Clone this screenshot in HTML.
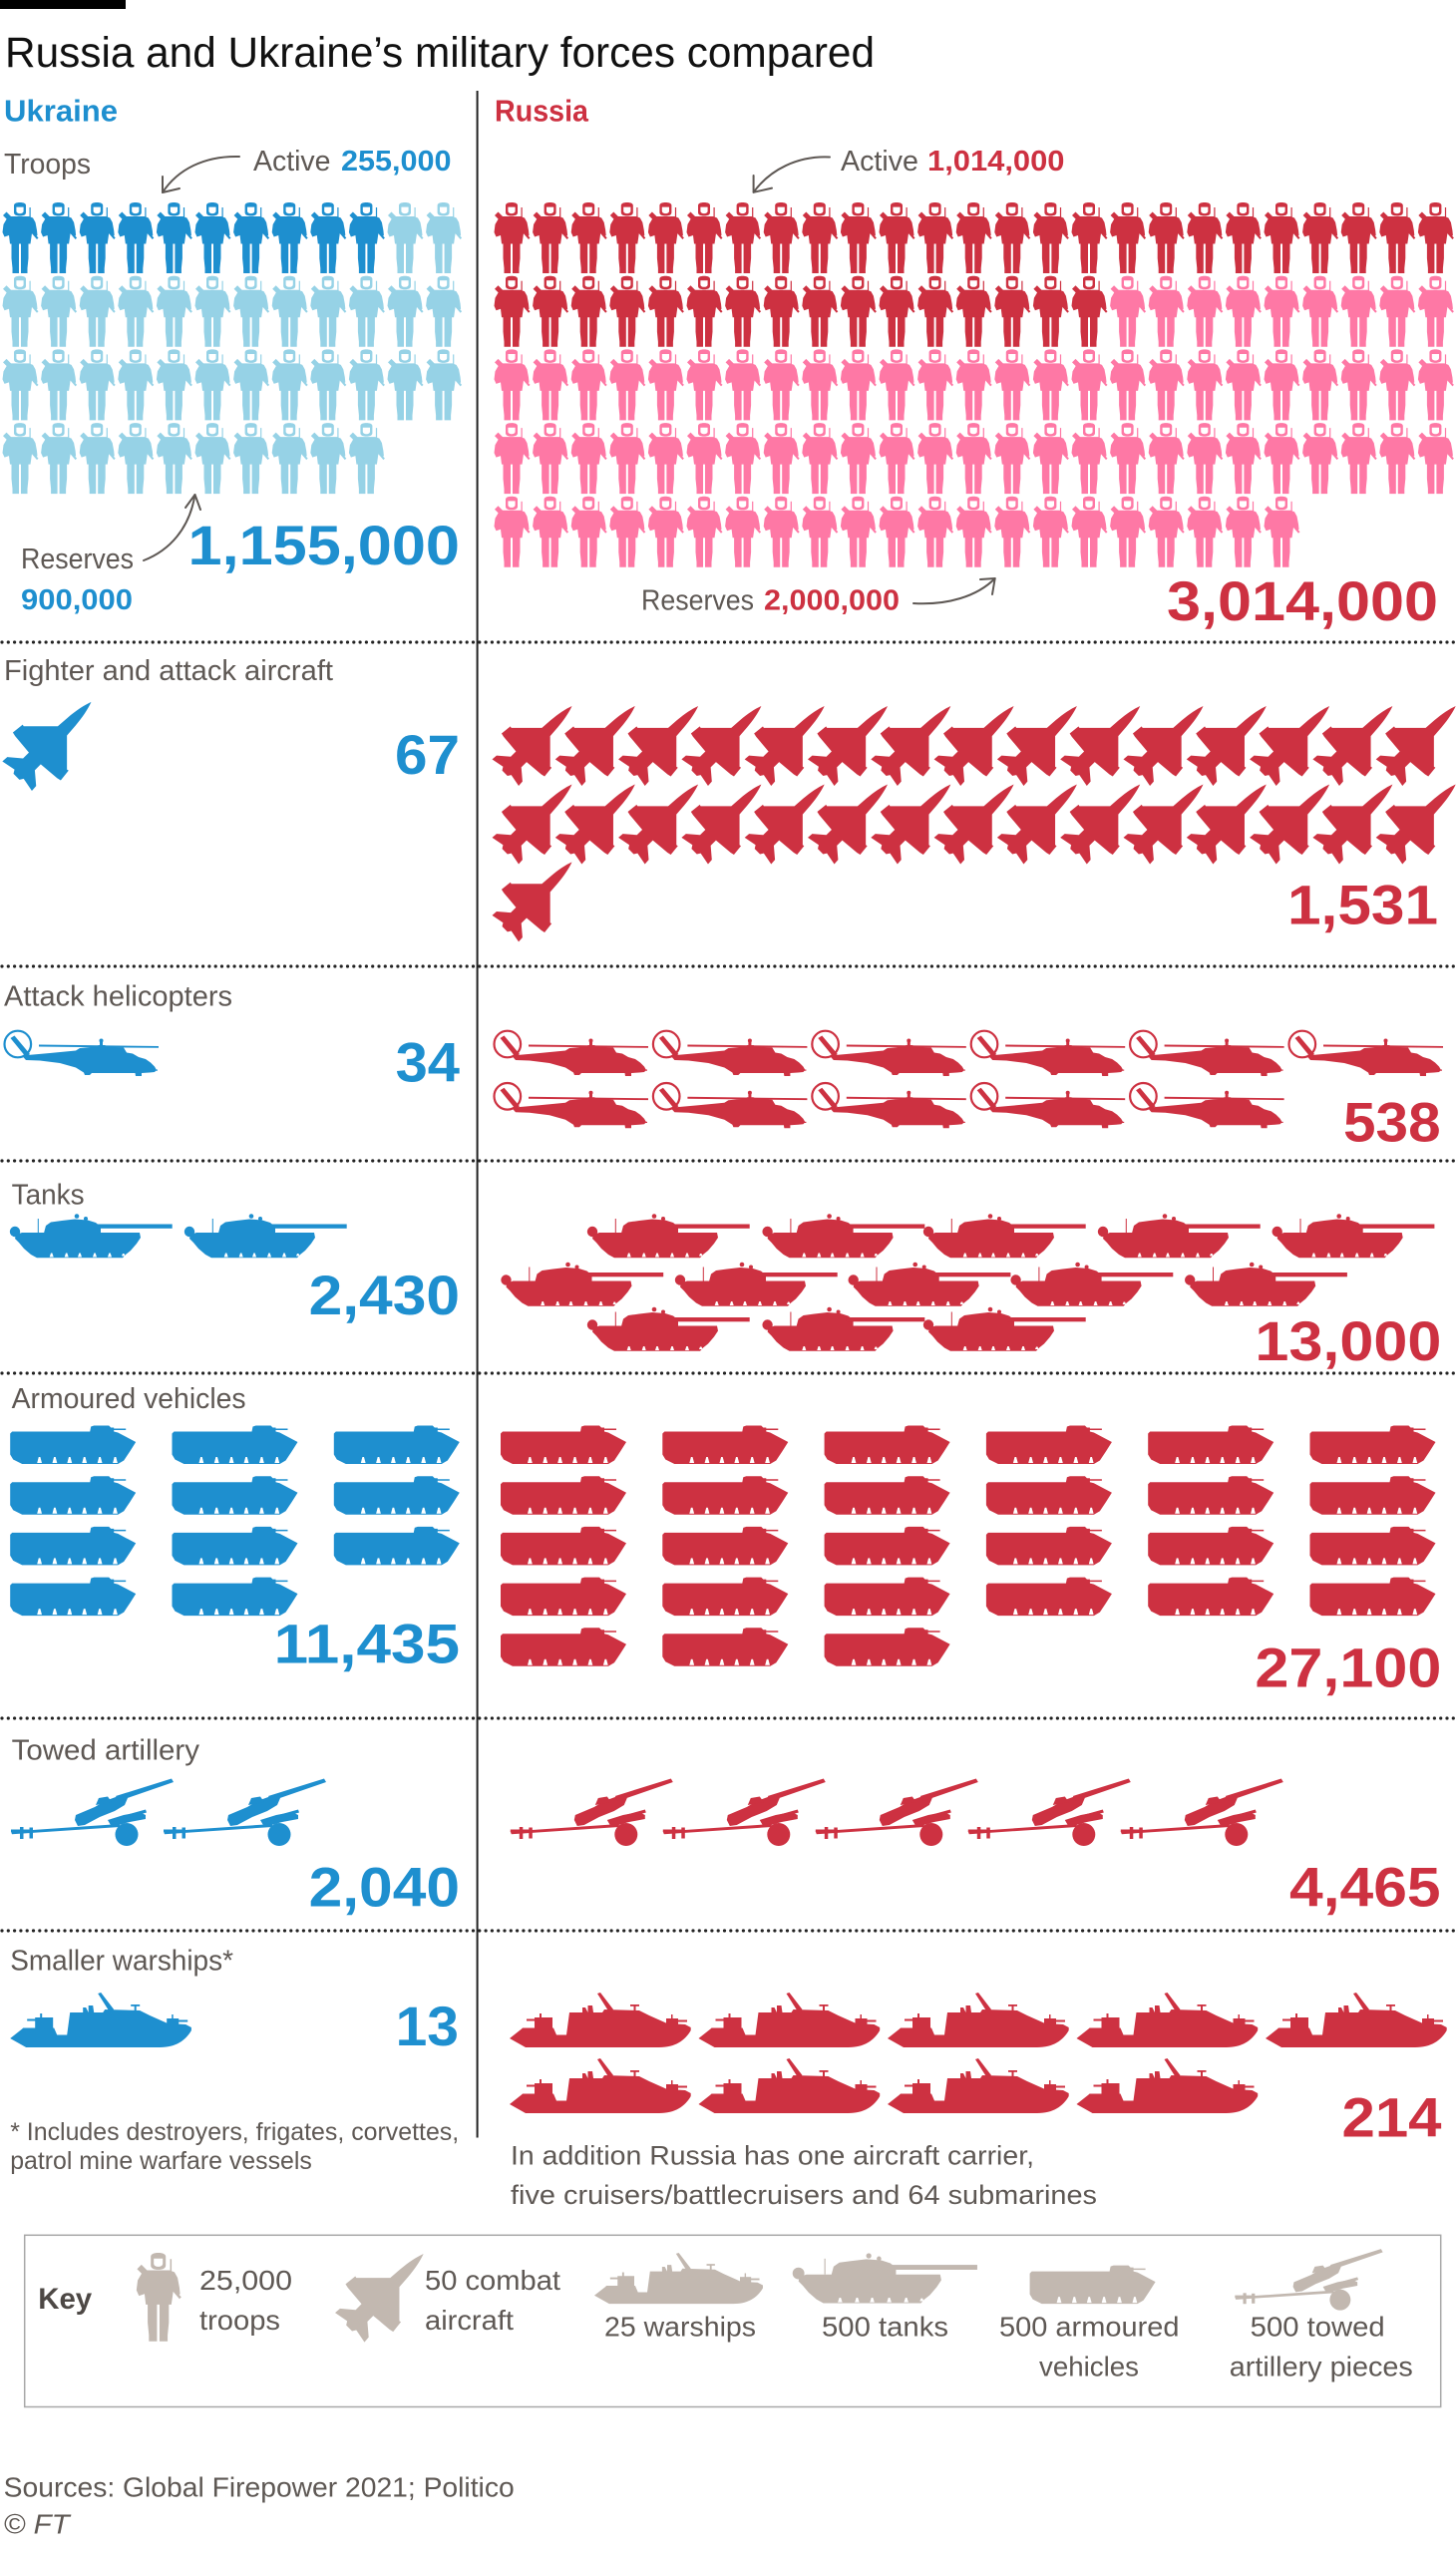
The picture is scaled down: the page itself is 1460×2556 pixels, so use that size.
<!DOCTYPE html>
<html>
<head>
<meta charset="utf-8">
<style>
html,body{margin:0;padding:0;background:#fff;}
svg{display:block;}
.t{font-family:"Liberation Sans",Arial,sans-serif;}
.lab{font-size:29px;fill:#5e5854;}
.big{font-size:56px;font-weight:bold;}
.bt{fill:#1e8fcf;}
.rt{fill:#cd3141;}
.B{fill:#1e8fcf;color:#1e8fcf;}
.LB{fill:#96d2e6;color:#96d2e6;}
.R{fill:#cd3141;color:#cd3141;}
.P{fill:#fe78a5;color:#fe78a5;}
.K{fill:#c2b8b0;color:#c2b8b0;}
.dot{stroke:#222;stroke-width:3.2;stroke-linecap:round;stroke-dasharray:0 6.3;fill:none;}
.arr{stroke:#5e5854;stroke-width:2;fill:none;stroke-linecap:round;stroke-linejoin:round;}
</style>
</head>
<body>
<svg width="1460" height="2556" viewBox="0 0 1460 2556" xmlns="http://www.w3.org/2000/svg">
<defs>
  <g id="sol">
    <path d="M-6,3 C-6,1 -3.5,0 0,0 C3.5,0 6,1 6,3 L6,10 C6,12.5 3.5,13.5 0,13.5 C-3.5,13.5 -6,12.5 -6,10 Z"/>
    <path fill="#fff" d="M-3.6,4.6 L3.6,4.6 L3.6,8.5 C3.6,10.4 1.8,11.1 0,11.1 C-1.8,11.1 -3.6,10.4 -3.6,8.5 Z"/>
    <path d="M-9,14 L9,14 L13,15.5 L15.5,20 L17,28 L17.5,33 L15.5,34.5 L12,31 L10.5,41.5 L-10,41.5 L-11,33 L-15.5,34.5 L-17.5,30 L-16.5,22 L-13,16 Z"/>
    <polygon points="-17,13 -13.5,9.5 -8,15 -12,18"/>
    <rect x="9.5" y="5" width="1.2" height="10"/>
    <polygon points="11,30 12.5,29 18.5,35.5 17,37"/>
    <path d="M-8.5,41 L-1,41 L-1,71 L-7.5,71 L-7.5,66 L-8.5,56 Z"/>
    <path d="M1,41 L8.5,41 L8.5,56 L7.5,66 L7.5,71 L1,71 Z"/>
  </g>
  <g id="s2"><use href="#sol"/><use href="#sol" x="38.6"/></g>
  <g id="s5"><use href="#s2"/><use href="#s2" x="77.2"/><use href="#sol" x="154.4"/></g>
  <g id="s10"><use href="#s5"/><use href="#s5" x="193"/></g>

  <g id="jet">
    <path transform="rotate(45)" d="M0,-62 C3,-54 5,-44 6,-32 L7,-18 L33,8 L35,7.5 L36.5,21 L32,22 L9,24 L9,33 L22,44 L22.5,51 L7,48 L4.5,52 L-4.5,52 L-7,48 L-22.5,51 L-22,44 L-9,33 L-9,24 L-32,22 L-36.5,21 L-35,7.5 L-33,8 L-7,-18 L-6,-32 C-5,-44 -3,-54 0,-62 Z"/>
  </g>
  <g id="jr"><use href="#jet" transform="translate(43.4,36.6) scale(0.835)"/></g>
  <g id="jrow">
    <use href="#jr" x="0"/><use href="#jr" x="63.3"/><use href="#jr" x="126.6"/><use href="#jr" x="189.9"/><use href="#jr" x="253.2"/>
    <use href="#jr" x="316.5"/><use href="#jr" x="379.8"/><use href="#jr" x="443.1"/><use href="#jr" x="506.4"/><use href="#jr" x="569.7"/>
    <use href="#jr" x="633"/><use href="#jr" x="696.3"/><use href="#jr" x="759.6"/><use href="#jr" x="822.9"/><use href="#jr" x="886.2"/>
  </g>

  <g id="heli">
    <circle cx="17.8" cy="18.5" r="13.3" fill="none" stroke="currentColor" stroke-width="2.2"/>
    <polygon points="10.5,12.5 14.5,10 30,28.5 26,31.5"/>
    <polygon points="39,19 159,20.5 159,22.3 39,21"/>
    <rect x="100" y="14.5" width="3" height="6"/>
    <circle cx="101.5" cy="15" r="2"/>
    <path d="M22,30 L50,27.5 L76,25 L80,22.5 L96,21 L99,19.5 L105,19.5 L108,21 L124,22 L127,27 L133,28 L139,31.5 L146,33.5 L151,37 L155,41 L157,44.5 L155,46.5 L150,47 L142,47.5 L142,50.5 L136,50.5 L135.5,47.5 L92,47.5 L90,49.5 L85,49.5 L84,47 L76,42 L60,37.5 L40,35 L26,34.5 Z"/>
    <rect x="150" y="44" width="8" height="1.2"/>
  </g>

  <g id="tank">
    <circle cx="15" cy="19" r="5.2"/>
    <path d="M16,22 L22,20 L140,20 L141,25 L137,31 L131,38 L126,42 L123,45.3 L37,45.3 L31,42 L24,36 L19,30 L15,26 Z"/>
    <path d="M44,20.5 L46,13 L51,9.5 L62,8 L75,6.5 L88,7.5 L96,10 L101,14 L101,20.5 Z"/>
    <rect x="94" y="11.5" width="78.7" height="4.3"/>
    <circle cx="77" cy="3.5" r="2.3"/>
    <circle cx="86" cy="6" r="2"/>
    <rect x="37.8" y="6" width="1" height="14"/>
    <g fill="#fff">
      <polygon points="49.7,44.5 51,40.5 52.4,40.5 53.7,44.5"/>
      <polygon points="64.7,44.5 66,40.5 67.4,40.5 68.7,44.5"/>
      <polygon points="78,44.5 79.3,40.5 80.7,40.5 82,44.5"/>
      <polygon points="93,44.5 94.3,40.5 95.7,40.5 97,44.5"/>
      <polygon points="108,44.5 109.3,40.5 110.7,40.5 112,44.5"/>
      <polygon points="122,43.5 123,41 124.5,41 125.5,43.5"/>
    </g>
  </g>

  <g id="apc">
    <path d="M0,9 L2,7 L80,7 L81,2 L84,1 L99,1 L101,3 L104,3 L104,4 L116,4 L116,5.5 L104,5.5 L104,7 L108,8 L126,17.5 L120,27 L114,36 L108,39.5 L12,39.5 L3,35 L0,30 Z"/>
    <g fill="#fff">
      <polygon points="27,38.5 28.6,32.5 30.2,32.5 31.8,38.5"/>
      <polygon points="42.3,38.5 43.9,32.5 45.5,32.5 47.1,38.5"/>
      <polygon points="57.2,38.5 58.8,32.5 60.4,32.5 62,38.5"/>
      <polygon points="72.1,38.5 73.7,32.5 75.3,32.5 76.9,38.5"/>
      <polygon points="87.5,38.5 89.1,32.5 90.7,32.5 92.3,38.5"/>
      <polygon points="102.9,38.5 104.5,32.5 106.1,32.5 107.7,38.5"/>
    </g>
  </g>
  <g id="a3"><use href="#apc"/><use href="#apc" x="162.3"/><use href="#apc" x="324.6"/></g>

  <g id="art">
    <polygon points="11,56.5 120,49 120,52 12,59.2"/>
    <rect x="11" y="54.5" width="22" height="2.5"/>
    <rect x="20" y="52" width="3.5" height="12"/>
    <rect x="29.5" y="52.5" width="3.5" height="11"/>
    <circle cx="127" cy="59.5" r="11.5"/>
    <polygon points="108,45 124,40 140,37 146,40 146,44 130,47 112,52"/>
    <polygon points="75,45 76,40 95,32 105,26 116,22 124,19 128,23 125,30 115,36 100,42 85,50 78,51"/>
    <polygon points="116,21 172,3.5 174,7 119,26"/>
    <polygon points="96,30 99,23 108,21.5 112,27"/>
    <polygon points="112,44 146,34.5 147,37.5 114,47"/>
  </g>

  <g id="ship">
    <path d="M0,46 L12,36.5 L13,35.5 L44,35.5 L47,42.5 L57,42.5 L60,20 L73,20 L73,15 L76,15 L78.5,20 L78.5,13 L83,13 L84,20 L93,20 L95,17 L130,18 L140,23 L158,31 L176,32 L181.7,35 L181.7,38 C176,48 166,55 150,55 L16,55 Z"/>
    <rect x="25" y="25" width="18" height="11"/>
    <rect x="17" y="26.5" width="9" height="2"/>
    <rect x="30" y="21" width="2" height="5"/>
    <polygon points="88,1 91,0 104,17 100,20"/>
    <rect x="124.5" y="13" width="2" height="6"/>
    <rect x="121" y="12" width="9" height="1.8"/>
    <rect x="157" y="26" width="12" height="7"/>
    <rect x="168" y="27.5" width="10" height="2"/>
    <rect x="162" y="22" width="1.5" height="5"/>
  </g>
</defs>

<rect x="0" y="0" width="126" height="9" fill="#000"/>
<text class="t" x="5" y="67" font-size="43" fill="#111" textLength="872" lengthAdjust="spacingAndGlyphs">Russia and Ukraine’s military forces compared</text>

<line x1="478.6" y1="91" x2="478.6" y2="2143.5" stroke="#222" stroke-width="2"/>

<line class="dot" x1="2" y1="644" x2="1460" y2="644"/>
<line class="dot" x1="2" y1="969" x2="1460" y2="969"/>
<line class="dot" x1="2" y1="1164" x2="1460" y2="1164"/>
<line class="dot" x1="2" y1="1377" x2="1460" y2="1377"/>
<line class="dot" x1="2" y1="1723" x2="1460" y2="1723"/>
<line class="dot" x1="2" y1="1936" x2="1460" y2="1936"/>

<text class="t bt" x="4" y="121.7" font-size="31" font-weight="bold" textLength="114" lengthAdjust="spacingAndGlyphs">Ukraine</text>
<text class="t rt" x="496" y="121.7" font-size="31" font-weight="bold" textLength="94" lengthAdjust="spacingAndGlyphs">Russia</text>

<text class="t lab" x="4" y="174" textLength="87" lengthAdjust="spacingAndGlyphs">Troops</text>
<text class="t lab" x="254" y="171" textLength="77.5" lengthAdjust="spacingAndGlyphs">Active</text>
<text class="t bt" x="342" y="171" font-size="29" font-weight="bold" textLength="110.5" lengthAdjust="spacingAndGlyphs">255,000</text>
<path class="arr" d="M240,157 C205,156 178,170 163,193"/>
<path class="arr" d="M163,177 L163,193 L180,189"/>

<text class="t lab" x="843" y="171" textLength="78" lengthAdjust="spacingAndGlyphs">Active</text>
<text class="t rt" x="930" y="171" font-size="29" font-weight="bold" textLength="137.5" lengthAdjust="spacingAndGlyphs">1,014,000</text>
<path class="arr" d="M832,157.5 C800,156 772,170 755.6,192.8"/>
<path class="arr" d="M755.6,176 L755.6,192.8 L774,188.6"/>

<use href="#s10" class="B" x="20" y="203"/>
<use href="#s2" class="LB" x="406" y="203"/>
<use href="#s10" class="LB" x="20" y="276.7"/>
<use href="#s2" class="LB" x="406" y="276.7"/>
<use href="#s10" class="LB" x="20" y="350.4"/>
<use href="#s2" class="LB" x="406" y="350.4"/>
<use href="#s10" class="LB" x="20" y="424.1"/>

<use href="#s10" class="R" x="513" y="203"/>
<use href="#s10" class="R" x="899" y="203"/>
<use href="#s5" class="R" x="1285" y="203"/>

<use href="#s10" class="R" x="513" y="276.7"/>
<use href="#s5" class="R" x="899" y="276.7"/>
<use href="#sol" class="R" x="1092" y="276.7"/>
<use href="#s5" class="P" x="1130.6" y="276.7"/>
<use href="#s2" class="P" x="1323.6" y="276.7"/>
<use href="#s2" class="P" x="1400.8" y="276.7"/>

<use href="#s10" class="P" x="513" y="350.4"/>
<use href="#s10" class="P" x="899" y="350.4"/>
<use href="#s5" class="P" x="1285" y="350.4"/>

<use href="#s10" class="P" x="513" y="424.1"/>
<use href="#s10" class="P" x="899" y="424.1"/>
<use href="#s5" class="P" x="1285" y="424.1"/>

<use href="#s10" class="P" x="513" y="497.8"/>
<use href="#s10" class="P" x="899" y="497.8"/>
<use href="#sol" class="P" x="1285" y="497.8"/>

<path class="arr" d="M144,562 C170,552 190,530 195.5,496"/>
<path class="arr" d="M186,509 L195.5,496 L201,511"/>
<text class="t lab" x="21" y="570" textLength="113" lengthAdjust="spacingAndGlyphs">Reserves</text>
<text class="t bt" x="21" y="611" font-size="29" font-weight="bold" textLength="112" lengthAdjust="spacingAndGlyphs">900,000</text>
<text class="t big bt" x="188.5" y="566" textLength="272.5" lengthAdjust="spacingAndGlyphs">1,155,000</text>

<text class="t lab" x="643" y="611.5" textLength="113" lengthAdjust="spacingAndGlyphs">Reserves</text>
<text class="t rt" x="766" y="611.5" font-size="29" font-weight="bold" textLength="136" lengthAdjust="spacingAndGlyphs">2,000,000</text>
<path class="arr" d="M916,605 C950,607 980,598 997.7,580"/>
<path class="arr" d="M983,581 L997.7,580 L995,596"/>
<text class="t big rt" x="1170" y="622" textLength="272" lengthAdjust="spacingAndGlyphs">3,014,000</text>

<text class="t lab" x="4" y="682" textLength="330" lengthAdjust="spacingAndGlyphs">Fighter and attack aircraft</text>
<use href="#jet" class="B" transform="translate(50.7,744.7) scale(0.93)"/>
<text class="t big bt" x="396" y="776" textLength="65" lengthAdjust="spacingAndGlyphs">67</text>
<use href="#jrow" class="R" x="493.5" y="708"/>
<use href="#jrow" class="R" x="493.5" y="786.5"/>
<use href="#jr" class="R" x="493.5" y="864.4"/>
<text class="t big rt" x="1291" y="926.3" textLength="151" lengthAdjust="spacingAndGlyphs">1,531</text>

<text class="t lab" x="4" y="1008.7" textLength="229" lengthAdjust="spacingAndGlyphs">Attack helicopters</text>
<use href="#heli" class="B" x="0" y="1028.5"/>
<text class="t big bt" x="396.6" y="1084.6" textLength="64.4" lengthAdjust="spacingAndGlyphs">34</text>
<use href="#heli" class="R" x="491" y="1028.5"/>
<use href="#heli" class="R" x="650.4" y="1028.5"/>
<use href="#heli" class="R" x="809.8" y="1028.5"/>
<use href="#heli" class="R" x="969.2" y="1028.5"/>
<use href="#heli" class="R" x="1128.6" y="1028.5"/>
<use href="#heli" class="R" x="1288" y="1028.5"/>
<use href="#heli" class="R" x="491" y="1080.8"/>
<use href="#heli" class="R" x="650.4" y="1080.8"/>
<use href="#heli" class="R" x="809.8" y="1080.8"/>
<use href="#heli" class="R" x="969.2" y="1080.8"/>
<use href="#heli" class="R" x="1128.6" y="1080.8"/>
<text class="t big rt" x="1347" y="1144.7" textLength="97.6" lengthAdjust="spacingAndGlyphs">538</text>

<text class="t lab" x="11.6" y="1207.5" textLength="73" lengthAdjust="spacingAndGlyphs">Tanks</text>
<use href="#tank" class="B" x="0" y="1216"/>
<use href="#tank" class="B" x="175" y="1216"/>
<text class="t big bt" x="309.6" y="1318" textLength="151.4" lengthAdjust="spacingAndGlyphs">2,430</text>
<use href="#tank" class="R" x="579" y="1216"/>
<use href="#tank" class="R" x="754.6" y="1216"/>
<use href="#tank" class="R" x="916" y="1216"/>
<use href="#tank" class="R" x="1091" y="1216"/>
<use href="#tank" class="R" x="1265.7" y="1216"/>
<use href="#tank" class="R" x="492.5" y="1264.5"/>
<use href="#tank" class="R" x="667" y="1264.5"/>
<use href="#tank" class="R" x="840.7" y="1264.5"/>
<use href="#tank" class="R" x="1003.6" y="1264.5"/>
<use href="#tank" class="R" x="1178.2" y="1264.5"/>
<use href="#tank" class="R" x="579" y="1309.5"/>
<use href="#tank" class="R" x="754.6" y="1309.5"/>
<use href="#tank" class="R" x="916" y="1309.5"/>
<text class="t big rt" x="1258.4" y="1364" textLength="187" lengthAdjust="spacingAndGlyphs">13,000</text>

<text class="t lab" x="11.6" y="1412" textLength="235" lengthAdjust="spacingAndGlyphs">Armoured vehicles</text>
<use href="#a3" class="B" x="10.2" y="1428.5"/>
<use href="#a3" class="B" x="10.2" y="1479.2"/>
<use href="#a3" class="B" x="10.2" y="1529.9"/>
<use href="#apc" class="B" x="10.2" y="1580.6"/>
<use href="#apc" class="B" x="172.5" y="1580.6"/>
<text class="t big bt" x="274.7" y="1667.3" textLength="186.3" lengthAdjust="spacingAndGlyphs">11,435</text>

<use href="#a3" class="R" x="502" y="1428.5"/>
<use href="#a3" class="R" x="988.9" y="1428.5"/>
<use href="#a3" class="R" x="502" y="1479.2"/>
<use href="#a3" class="R" x="988.9" y="1479.2"/>
<use href="#a3" class="R" x="502" y="1529.9"/>
<use href="#a3" class="R" x="988.9" y="1529.9"/>
<use href="#a3" class="R" x="502" y="1580.6"/>
<use href="#a3" class="R" x="988.9" y="1580.6"/>
<use href="#a3" class="R" x="502" y="1631.3"/>
<text class="t big rt" x="1258.4" y="1691.5" textLength="187" lengthAdjust="spacingAndGlyphs">27,100</text>

<text class="t lab" x="11.6" y="1764.6" textLength="188.4" lengthAdjust="spacingAndGlyphs">Towed artillery</text>
<use href="#art" class="B" x="0" y="1780"/>
<use href="#art" class="B" x="153" y="1780"/>
<text class="t big bt" x="309.6" y="1911.7" textLength="151.4" lengthAdjust="spacingAndGlyphs">2,040</text>
<use href="#art" class="R" x="500.8" y="1780"/>
<use href="#art" class="R" x="653.8" y="1780"/>
<use href="#art" class="R" x="806.8" y="1780"/>
<use href="#art" class="R" x="959.8" y="1780"/>
<use href="#art" class="R" x="1112.8" y="1780"/>
<text class="t big rt" x="1293" y="1911.7" textLength="151.6" lengthAdjust="spacingAndGlyphs">4,465</text>

<text class="t lab" x="10.2" y="1975.5" textLength="223.8" lengthAdjust="spacingAndGlyphs">Smaller warships*</text>
<use href="#ship" class="B" x="10.2" y="1998"/>
<text class="t big bt" x="396.6" y="2051" textLength="63.4" lengthAdjust="spacingAndGlyphs">13</text>
<use href="#ship" class="R" x="511" y="1998"/>
<use href="#ship" class="R" x="700.5" y="1998"/>
<use href="#ship" class="R" x="890" y="1998"/>
<use href="#ship" class="R" x="1079.5" y="1998"/>
<use href="#ship" class="R" x="1269" y="1998"/>
<use href="#ship" class="R" x="511" y="2064"/>
<use href="#ship" class="R" x="700.5" y="2064"/>
<use href="#ship" class="R" x="890" y="2064"/>
<use href="#ship" class="R" x="1079.5" y="2064"/>
<text class="t big rt" x="1345.5" y="2142.6" textLength="100" lengthAdjust="spacingAndGlyphs">214</text>

<text class="t" x="10.2" y="2146" font-size="25" fill="#5e5854" textLength="450" lengthAdjust="spacingAndGlyphs">* Includes destroyers, frigates, corvettes,</text>
<text class="t" x="10.2" y="2175" font-size="25" fill="#5e5854" textLength="302.6" lengthAdjust="spacingAndGlyphs">patrol mine warfare vessels</text>
<text class="t" x="512" y="2170.5" font-size="27" fill="#5e5854" textLength="525" lengthAdjust="spacingAndGlyphs">In addition Russia has one aircraft carrier,</text>
<text class="t" x="512" y="2210" font-size="27" fill="#5e5854" textLength="588" lengthAdjust="spacingAndGlyphs">five cruisers/battlecruisers and 64 submarines</text>

<rect x="24.7" y="2241.3" width="1420" height="172.2" fill="none" stroke="#a8a8a8" stroke-width="1.5"/>
<text class="t" x="38.2" y="2314.8" font-size="30" font-weight="bold" fill="#4d4845" textLength="54" lengthAdjust="spacingAndGlyphs">Key</text>
<use href="#sol" class="K" transform="translate(158.7,2259) scale(1.25)"/>
<text class="t" x="200" y="2296" font-size="28" fill="#5e5854" textLength="93" lengthAdjust="spacingAndGlyphs">25,000</text>
<text class="t" x="200" y="2335.8" font-size="28" fill="#5e5854" textLength="81" lengthAdjust="spacingAndGlyphs">troops</text>
<use href="#jet" class="K" transform="translate(384.1,2300.5) scale(0.925)"/>
<text class="t" x="426" y="2296" font-size="28" fill="#5e5854" textLength="136" lengthAdjust="spacingAndGlyphs">50 combat</text>
<text class="t" x="426" y="2335.8" font-size="28" fill="#5e5854" textLength="89" lengthAdjust="spacingAndGlyphs">aircraft</text>
<use href="#ship" class="K" transform="translate(596,2259) scale(0.93)"/>
<text class="t" x="606" y="2342.7" font-size="28" fill="#5e5854" textLength="152" lengthAdjust="spacingAndGlyphs">25 warships</text>
<use href="#tank" class="K" transform="translate(783.6,2258) scale(1.137)"/>
<text class="t" x="824" y="2342.7" font-size="28" fill="#5e5854" textLength="127" lengthAdjust="spacingAndGlyphs">500 tanks</text>
<use href="#apc" class="K" x="1032.6" y="2270.6"/>
<text class="t" x="1002" y="2342.7" font-size="28" fill="#5e5854" textLength="180.5" lengthAdjust="spacingAndGlyphs">500 armoured</text>
<text class="t" x="1042" y="2382.3" font-size="28" fill="#5e5854" textLength="100" lengthAdjust="spacingAndGlyphs">vehicles</text>
<use href="#art" class="K" transform="translate(1228.3,2252) scale(0.91)"/>
<text class="t" x="1253.7" y="2342.7" font-size="28" fill="#5e5854" textLength="135" lengthAdjust="spacingAndGlyphs">500 towed</text>
<text class="t" x="1232.8" y="2382.3" font-size="28" fill="#5e5854" textLength="184" lengthAdjust="spacingAndGlyphs">artillery pieces</text>

<text class="t" x="3.7" y="2503.4" font-size="28" fill="#5e5854" textLength="512" lengthAdjust="spacingAndGlyphs">Sources: Global Firepower 2021; Politico</text>
<text class="t" x="3.7" y="2540.6" font-size="28" font-style="italic" fill="#5e5854" textLength="66" lengthAdjust="spacingAndGlyphs">© FT</text>
</svg>
</body>
</html>
